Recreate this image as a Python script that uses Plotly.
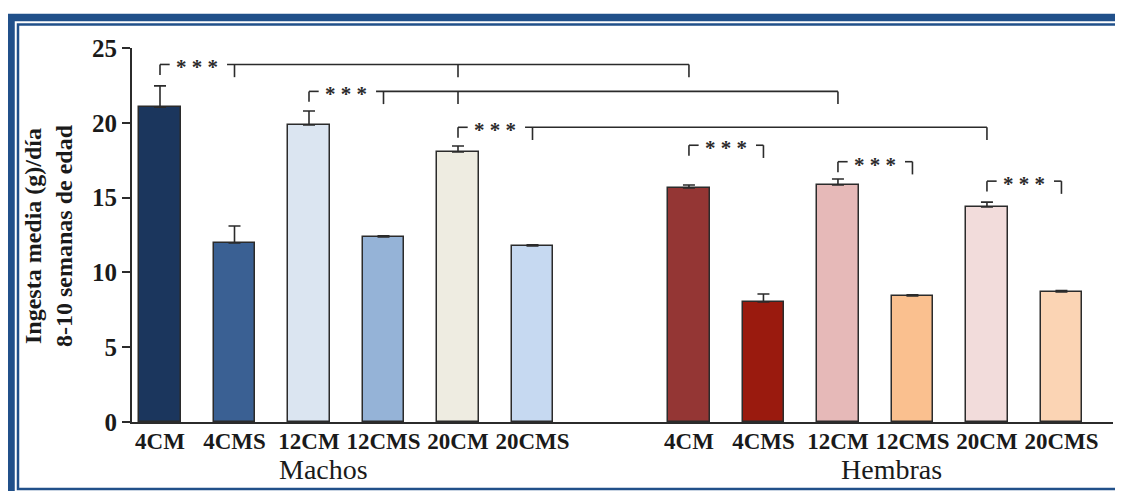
import plotly.graph_objects as go

# ---------------- data ----------------
groups = ["Machos", "Hembras"]
labels_machos = ["4CM", "4CMS", "12CM", "12CMS", "20CM", "20CMS"]
labels_hembras = ["4CM", "4CMS", "12CM", "12CMS", "20CM", "20CMS"]
mean_machos = [21.05, 11.97, 19.85, 12.37, 18.05, 11.76]
mean_hembras = [15.64, 8.02, 15.84, 8.42, 14.37, 8.69]
err_machos = [1.42, 1.13, 0.94, 0.08, 0.40, 0.08]
err_hembras = [0.20, 0.54, 0.40, 0.08, 0.33, 0.10]
yticks = [0, 5, 10, 15, 20, 25]
ytitle = ["Ingesta media (g)/día", "8-10 semanas de edad"]

# significance brackets: left bar index, bars with ticks on the right, level
sig_left = [0, 2, 4, 6, 8, 10]
sig_right = [[1, 4, 6], [3, 4, 8], [5, 10], [7], [9], [11]]
sig_level = [23.9, 22.1, 19.7, 18.5, 17.4, 16.1]
sig_text = "* * *"

# ---------------- styles ----------------
colors = ["#1b365d", "#3a6093", "#dbe5f1", "#95b3d7", "#eeece1", "#c6d9f1",
          "#943634", "#9a1a0e", "#e6b9b8", "#fac08f", "#f2dcdb", "#fbd4b4"]
W, H = 1123, 491
OFF = 8  # page offset of the figure in the browser
PL, PR, PT, PB = 132, 1113, 48, 422
ML, MT = PL - OFF, PT - OFF
MR, MB = W - (PR - OFF), H - (PB - OFF)
GAP = 1.1
FONT = "Liberation Serif"
INK = "#2b2b2b"
FRAME = "#21508a"

labels = labels_machos + labels_hembras
means = mean_machos + mean_hembras
errs = err_machos + err_hembras
n_m = len(labels_machos)
xpos = [i if i < n_m else i + GAP for i in range(len(labels))]

fig = go.Figure()
fig.add_trace(go.Bar(
    x=xpos, y=means, width=0.56,
    marker=dict(color=colors, line=dict(color=INK, width=1.5)),
    error_y=dict(type="data", symmetric=False, array=errs,
                 arrayminus=[0] * len(errs), color=INK, thickness=1.6, width=6),
    showlegend=False, hoverinfo="skip",
))

shapes = []
annotations = []


def seg(x0, y0, x1, y1):
    shapes.append(dict(type="line", xref="x", yref="y", x0=x0, y0=y0, x1=x1, y1=y1,
                       line=dict(color=INK, width=1.6)))


for li, rr, lv in zip(sig_left, sig_right, sig_level):
    xl = xpos[li]
    xr = [xpos[j] for j in rr]
    seg(xl, lv, xl, lv - 0.7)
    seg(xl, lv, xl + 0.13, lv)
    seg(xr[0] - 0.1, lv, xr[-1], lv)
    for x in xr:
        seg(x, lv, x, lv - 0.85)
    annotations.append(dict(x=(xl + xr[0]) / 2, y=lv, xref="x", yref="y",
                            text=sig_text, showarrow=False, yanchor="middle",
                            yshift=-3, font=dict(family=FONT, size=21, color=INK,
                                                 weight="bold")))

pw = PR - PL
ph = PB - PT


def px2x(px):
    return (px - PL) / pw


def py2y(py):
    return (PB - py) / ph


gx_m = sum(xpos[:n_m]) / n_m
gx_h = sum(xpos[n_m:]) / (len(xpos) - n_m)
annotations.append(dict(x=gx_m, y=py2y(469), xref="x", yref="paper", text=groups[0],
                        showarrow=False, xshift=-23, yanchor="middle",
                        font=dict(family=FONT, size=28, color="#1a1a1a")))
annotations.append(dict(x=gx_h, y=py2y(469), xref="x", yref="paper", text=groups[1],
                        showarrow=False, xshift=16, yanchor="middle",
                        font=dict(family=FONT, size=28, color="#1a1a1a")))
annotations.append(dict(x=px2x(48), y=py2y(236), xref="paper", yref="paper",
                        text="<br>".join(ytitle), textangle=-90, showarrow=False,
                        xanchor="center", yanchor="middle",
                        font=dict(family=FONT, size=24, color="#1a1a1a", weight="bold")))

# frame
shapes.append(dict(type="rect", xref="paper", yref="paper",
                   x0=px2x(11), x1=px2x(1140), y0=py2y(17.5), y1=py2y(505),
                   line=dict(color=FRAME, width=7.5), layer="above"))
shapes.append(dict(type="rect", xref="paper", yref="paper",
                   x0=px2x(18), x1=px2x(1140), y0=py2y(24.5), y1=py2y(489),
                   line=dict(color=FRAME, width=2.5), layer="above"))

fig.update_layout(
    width=W, height=H,
    margin=dict(l=ML, r=MR, t=MT, b=MB),
    paper_bgcolor="white", plot_bgcolor="white",
    bargap=0,
    xaxis=dict(range=[(PL - 160) / 74.5, (PR - 160) / 74.5], tickvals=xpos, ticktext=labels,
               showline=True, linecolor=INK, linewidth=2, ticks="",
               showgrid=False, zeroline=False, ticklabelstandoff=-3,
               tickfont=dict(family=FONT, size=23, color="#1a1a1a", weight="bold")),
    yaxis=dict(range=[0, 25], tickvals=yticks, showline=True, linecolor=INK,
               linewidth=2, ticks="outside", ticklen=8, tickwidth=1.5, tickcolor=INK,
               showgrid=False, zeroline=False,
               tickfont=dict(family=FONT, size=25, color="#1a1a1a", weight="bold")),
    shapes=shapes, annotations=annotations,
)

fig.write_html("out.html")
